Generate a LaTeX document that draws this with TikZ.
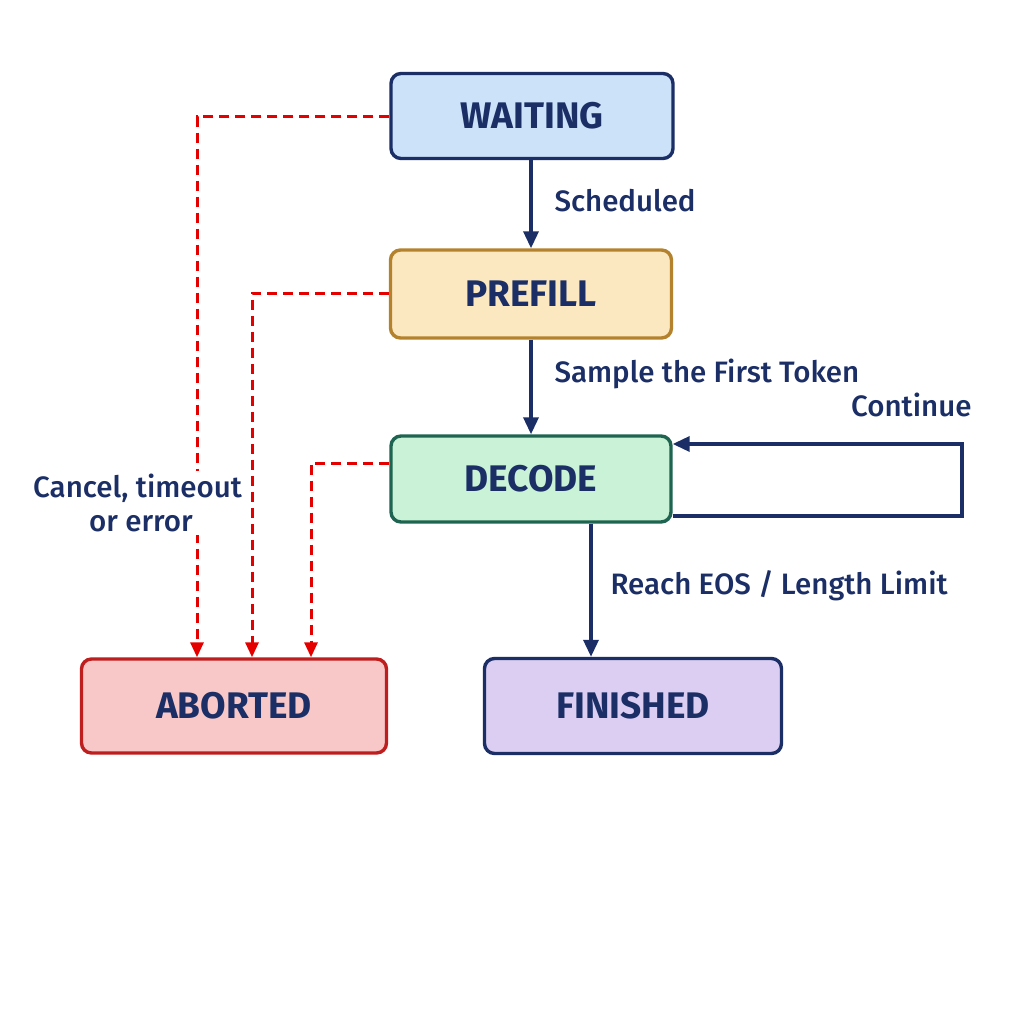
\documentclass[tikz,border=0pt]{standalone}
\usepackage{fontspec}
\setmainfont{Fira Sans}[BoldFont={Fira Sans Bold}]
\newfontfamily\medf{Fira Sans Medium}
\usetikzlibrary{arrows.meta}
\definecolor{navy}{HTML}{1B2F66}
\begin{document}
\begin{tikzpicture}[x=1pt,y=-1pt,
 st/.style={draw, line width=3.4pt, rounded corners=10pt, minimum width=#1, font=\bfseries\fontsize{37}{40}\selectfont, text=navy, anchor=center},
 lab/.style={font=\medf\fontsize{29.5}{34}\selectfont, text=navy},
 arr/.style={draw=navy, line width=3.4pt, -{Triangle[length=17pt,width=15pt]}},
 ab/.style={draw=red!90!black, line width=3pt, dash pattern=on 10pt off 6pt, -{Triangle[length=15pt,width=13pt]}}]
\fill[white] (0,0) rectangle (1024,1024);
\useasboundingbox (0,0) rectangle (1024,1024);
\node[st=282pt, minimum height=85pt, draw=navy, fill={rgb,255:red,204;green,226;blue,248}] (w) at (532,116) {WAITING};
\node[st=281pt, minimum height=88pt, draw={rgb,255:red,180;green,130;blue,45}, fill={rgb,255:red,251;green,231;blue,192}] (p) at (531,294) {PREFILL};
\node[st=280pt, minimum height=86pt, draw={rgb,255:red,30;green,100;blue,80}, fill={rgb,255:red,202;green,242;blue,214}] (d) at (531,479) {DECODE};
\node[st=305pt, minimum height=94pt, draw={rgb,255:red,190;green,30;blue,30}, fill={rgb,255:red,248;green,200;blue,200}] (a) at (234,706) {ABORTED};
\node[st=297pt, minimum height=95pt, draw=navy, fill={rgb,255:red,220;green,206;blue,242}] (f) at (633,706) {FINISHED};
\draw[arr] (w.south -| 531,0) -- (p.north -| 531,0);
\node[lab, anchor=west] at (551,201) {Scheduled};
\draw[arr] (p) -- (d);
\node[lab, anchor=west] at (551,374) {Sample the First Token};
\coordinate (l1) at (962,516); \coordinate (l2) at (962,444);
\draw[arr] (d.east |- 0,516) -- (l1) -- (l2) -- (d.east |- 0,444);
\node[lab, anchor=east] at (975,405) {Continue};
\draw[arr] (d.south -| 591,0) -- (f.north -| 591,0);
\node[lab, anchor=west] at (607,586) {Reach EOS / Length Limit};
\coordinate (c1) at (197,117); \coordinate (c2) at (252,293); \coordinate (c3) at (311,463);
\draw[ab] (w.west |- 0,117) -- (c1) -- (a.north -| c1);
\draw[ab] (p.west |- 0,293) -- (c2) -- (a.north -| c2);
\draw[ab] (d.west |- 0,463) -- (c3) -- (a.north -| c3);
\node[lab, anchor=west, fill=white, align=left, inner sep=3pt] at (30,503) {Cancel, timeout\\\hspace*{56pt}or error};
\end{tikzpicture}
\end{document}
